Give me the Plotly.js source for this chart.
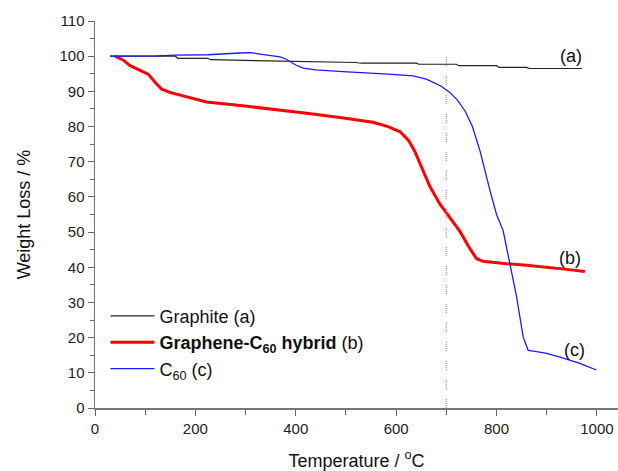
<!DOCTYPE html>
<html>
<head>
<meta charset="utf-8">
<script src="https://cdn.plot.ly/plotly-3.0.1.min.js"></script>
<style>html,body{margin:0;padding:0;background:#fff;}#chart{width:618px;height:471px;}</style>
</head>
<body>
<div id="chart"></div>
<script>
// Graphite (a)
var graphiteT = [30, 100, 160, 165, 225, 230, 320, 420, 520, 530, 640, 645, 720, 725, 800, 805, 860, 865, 970];
var graphiteW = [100, 100, 100, 99.4, 99.4, 99.0, 98.8, 98.6, 98.2, 98.0, 98.0, 97.7, 97.7, 97.3, 97.3, 96.8, 96.8, 96.5, 96.5];
// Graphene-C60 hybrid (b)
var hybridT = [40, 55, 70, 90, 106, 120, 133, 149, 170, 189, 222, 275, 355, 422, 488, 554, 584, 608, 625, 637, 652, 667, 687, 707, 727, 747, 760, 773, 790, 820, 860, 900, 940, 976];
var hybridW = [100, 99, 97.3, 96, 94.9, 92.5, 90.6, 89.7, 88.9, 88.3, 87.0, 86.2, 85.0, 83.8, 82.6, 81.2, 80.0, 78.5, 76, 73, 68, 63, 58, 54, 50.2, 45.3, 42.5, 41.7, 41.4, 41.0, 40.6, 40.1, 39.4, 38.8];
// C60 (c)
var c60T = [30, 80, 123, 160, 225, 289, 310, 329, 350, 369, 380, 389, 400, 415, 440, 494, 540, 584, 634, 660, 688, 707, 722, 737, 752, 767, 787, 800, 813, 827, 840, 853, 863, 880, 900, 930, 966, 999];
var c60W = [100, 100, 100.1, 100.3, 100.4, 100.9, 101, 100.6, 100.2, 99.8, 99.2, 98.5, 97.5, 96.6, 96.1, 95.6, 95.3, 94.9, 94.4, 93.5, 91.6, 89.7, 87.5, 84.5, 80, 73.1, 61.8, 55, 50.5, 41.0, 31.6, 20.2, 16.4, 16.0, 15.5, 14.3, 12.7, 10.8];

var seriesNames = ['Graphite (a)', '<b>Graphene-C<sub>60</sub> hybrid</b> (b)', 'C<sub>60</sub> (c)'];
var labelText = ['(a)', '(b)', '(c)'];
var labelT = [948, 946, 956];
var labelW = [100.1, 42.5, 16.4];
var markerT = 700;

var traces = [
  {x: graphiteT, y: graphiteW, name: seriesNames[0], mode: 'lines', line: {color: '#222222', width: 1.2}},
  {x: hybridT, y: hybridW, name: seriesNames[1], mode: 'lines', line: {color: '#ff0000', width: 3}},
  {x: c60T, y: c60W, name: seriesNames[2], mode: 'lines', line: {color: '#1a1aff', width: 1.3}}
];

var font = 'Arial, "Liberation Sans", sans-serif';
var layout = {
  width: 618, height: 471,
  margin: {l: 95, r: 0, t: 21, b: 63},
  paper_bgcolor: '#fff', plot_bgcolor: '#fff',
  font: {family: font, color: '#222', size: 15},
  showlegend: true,
  legend: {x: 0.02, y: 0.285, xanchor: 'left', yanchor: 'top', bgcolor: 'rgba(0,0,0,0)', itemwidth: 44,
           font: {family: font, size: 18, color: '#111'}, tracegroupgap: 0},
  xaxis: {range: [0, 1042], tickvals: [0, 200, 400, 600, 800, 1000], ticks: 'outside', ticklen: 6, tickcolor: '#666',
          showline: true, linecolor: '#777', linewidth: 1.5, showgrid: false, zeroline: false,
          minor: {tickvals: [100, 300, 500, 700, 900], ticks: 'outside', ticklen: 5, tickcolor: '#666'},
          tickfont: {size: 15, color: '#222'},
          title: {text: 'Temperature / <sup>o</sup>C', font: {size: 18, color: '#111'}, standoff: 20}},
  yaxis: {range: [0, 110], dtick: 10, ticks: 'outside', ticklen: 6, tickcolor: '#666',
          showline: true, linecolor: '#777', linewidth: 1.5, showgrid: false, zeroline: false,
          minor: {dtick: 5, ticks: 'outside', ticklen: 4, tickcolor: '#666'},
          tickfont: {size: 15, color: '#222'},
          title: {text: 'Weight Loss / %', font: {size: 18, color: '#111'}, standoff: 24}},
  shapes: [{type: 'line', xref: 'x', yref: 'y', x0: markerT, x1: markerT, y0: 0, y1: 100.5,
            line: {color: '#999', width: 1.2, dash: '1px,1px,1px,1px,1px,1px,1px,1px,1px,10px'}}],
  annotations: labelText.map(function (t, i) {
    return {x: labelT[i], y: labelW[i], xref: 'x', yref: 'y', text: t, showarrow: false,
            yanchor: 'middle', font: {family: font, size: 18, color: '#111'}};
  })
};

Plotly.newPlot('chart', traces, layout, {displayModeBar: false, staticPlot: true});
</script>
</body>
</html>
